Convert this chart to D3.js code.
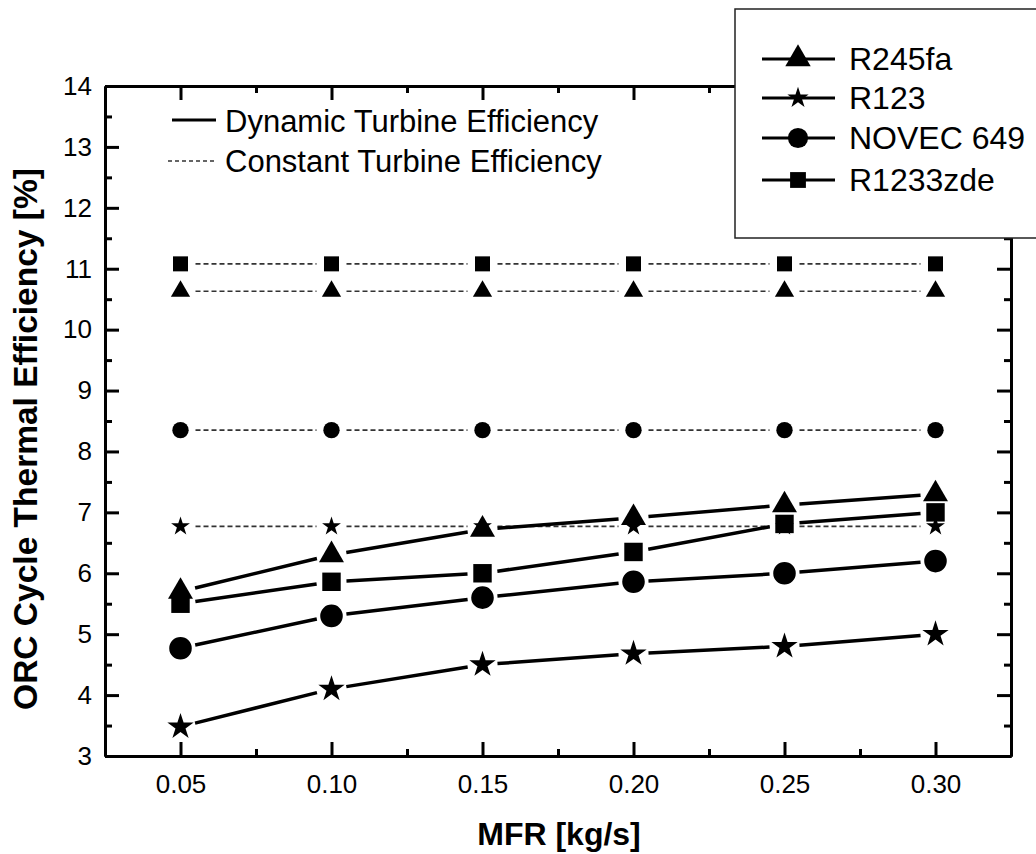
<!DOCTYPE html>
<html><head><meta charset="utf-8">
<script src="https://cdn.jsdelivr.net/npm/d3@7"></script>
<style>body{margin:0;background:#fff}svg{display:block}text{font-family:"Liberation Sans",Arial,sans-serif}</style>
</head><body><svg id="c" width="1036" height="854"></svg>
<script>
const mfr = [0.05, 0.10, 0.15, 0.20, 0.25, 0.30];
const seriesNames = ["R245fa", "R123", "NOVEC 649", "R1233zde"];
const dynR245fa = [5.70, 6.30, 6.72, 6.91, 7.12, 7.30];
const dynR123 = [3.48, 4.10, 4.50, 4.68, 4.80, 5.00];
const dynNovec = [4.77, 5.30, 5.60, 5.86, 6.00, 6.20];
const dynR1233 = [5.50, 5.86, 6.00, 6.35, 6.81, 7.00];
const constR245fa = [10.63, 10.63, 10.63, 10.63, 10.63, 10.63];
const constR123 = [6.77, 6.77, 6.77, 6.77, 6.77, 6.77];
const constNovec = [8.35, 8.35, 8.35, 8.35, 8.35, 8.35];
const constR1233 = [11.08, 11.08, 11.08, 11.08, 11.08, 11.08];
const yTicks = [3,4,5,6,7,8,9,10,11,12,13,14];
const xTickLabels = ["0.05","0.10","0.15","0.20","0.25","0.30"];

const svg = d3.select("#c");
const L=105, R=1011, T=86, B=756;
const x = d3.scaleLinear().domain([0.025, 0.325]).range([L, R]);
const y = d3.scaleLinear().domain([3, 14]).range([B, T]);

const symTypes = {"R245fa": d3.symbolTriangle, "R123": d3.symbolStar, "NOVEC 649": d3.symbolCircle, "R1233zde": d3.symbolSquare};
const bigSize = {"R245fa": 270, "R123": 215, "NOVEC 649": 400, "R1233zde": 340};
const smallSize = {"R245fa": 160, "R123": 110, "NOVEC 649": 210, "R1233zde": 225};
const legSize = {"R245fa": 280, "R123": 140, "NOVEC 649": 320, "R1233zde": 250};

function styleAxis(g){
  g.selectAll(".domain").attr("stroke","#000").attr("stroke-width",3);
  g.selectAll(".tick line").attr("stroke","#000").attr("stroke-width",3);
  g.selectAll("text").attr("font-size",26).attr("fill","#000").attr("font-family","Liberation Sans, Arial, sans-serif");
}
const xMinor = [0.075,0.125,0.175,0.225,0.275];
const yMinor = d3.range(3.5, 14, 1);

svg.append("g").attr("transform",`translate(0,${B})`)
  .call(d3.axisBottom(x).tickValues(mfr).tickFormat((d,i)=>xTickLabels[i]).tickSizeInner(-14).tickSizeOuter(0).tickPadding(19))
  .call(styleAxis);
svg.append("g").attr("transform",`translate(0,${B})`)
  .call(d3.axisBottom(x).tickValues(xMinor).tickFormat("").tickSizeInner(-7).tickSizeOuter(0)).call(styleAxis);
svg.append("g").attr("transform",`translate(0,${T})`)
  .call(d3.axisTop(x).tickValues(mfr).tickFormat("").tickSizeInner(-14).tickSizeOuter(0)).call(styleAxis);
svg.append("g").attr("transform",`translate(0,${T})`)
  .call(d3.axisTop(x).tickValues(xMinor).tickFormat("").tickSizeInner(-7).tickSizeOuter(0)).call(styleAxis);
svg.append("g").attr("transform",`translate(${L},0)`)
  .call(d3.axisLeft(y).tickValues(yTicks).tickFormat(d3.format("d")).tickSizeInner(-14).tickSizeOuter(0).tickPadding(13))
  .call(styleAxis);
svg.append("g").attr("transform",`translate(${L},0)`)
  .call(d3.axisLeft(y).tickValues(yMinor).tickFormat("").tickSizeInner(-7).tickSizeOuter(0)).call(styleAxis);
svg.append("g").attr("transform",`translate(${R},0)`)
  .call(d3.axisRight(y).tickValues(yTicks).tickFormat("").tickSizeInner(-14).tickSizeOuter(0)).call(styleAxis);
svg.append("g").attr("transform",`translate(${R},0)`)
  .call(d3.axisRight(y).tickValues(yMinor).tickFormat("").tickSizeInner(-7).tickSizeOuter(0)).call(styleAxis);

svg.append("text").attr("transform",`translate(37,439) rotate(-90)`).attr("text-anchor","middle")
  .attr("font-size",33.5).attr("font-weight","bold").text("ORC Cycle Thermal Efficiency [%]");
svg.append("text").attr("x",559).attr("y",845).attr("text-anchor","middle")
  .attr("font-size",32).attr("font-weight","bold").text("MFR [kg/s]");

function drawSeries(vals, name, dashed){
  const pts = mfr.map((m,i)=>[x(m), y(vals[i])]);
  const gap = 15;
  const g = svg.append("g");
  for(let i=0;i<pts.length-1;i++){
    const [x1,y1]=pts[i], [x2,y2]=pts[i+1];
    const dx=x2-x1, dy=y2-y1, len=Math.hypot(dx,dy);
    const ux=dx/len, uy=dy/len;
    g.append("line").attr("x1",x1+ux*gap).attr("y1",y1+uy*gap).attr("x2",x2-ux*gap).attr("y2",y2-uy*gap)
      .attr("stroke", dashed?"#333":"#000").attr("stroke-width", dashed?1.6:3.5)
      .attr("stroke-dasharray", dashed?"5,3":null);
  }
  const sz = dashed ? smallSize[name] : bigSize[name];
  g.selectAll("path").data(pts).join("path")
    .attr("transform",d=>`translate(${d[0]},${d[1]})`)
    .attr("d", d3.symbol().type(symTypes[name]).size(sz)).attr("fill","#000");
}
drawSeries(constR123, "R123", true);
drawSeries(constNovec, "NOVEC 649", true);
drawSeries(constR245fa, "R245fa", true);
drawSeries(constR1233, "R1233zde", true);
drawSeries(dynR123, "R123", false);
drawSeries(dynNovec, "NOVEC 649", false);
drawSeries(dynR1233, "R1233zde", false);
drawSeries(dynR245fa, "R245fa", false);

svg.append("line").attr("x1",172).attr("x2",216).attr("y1",120).attr("y2",120).attr("stroke","#000").attr("stroke-width",3);
svg.append("text").attr("x",225).attr("y",132).attr("font-size",31).text("Dynamic Turbine Efficiency");
svg.append("line").attr("x1",168).attr("x2",216).attr("y1",161).attr("y2",161).attr("stroke","#333").attr("stroke-width",1.4).attr("stroke-dasharray","4,3");
svg.append("text").attr("x",225).attr("y",172).attr("font-size",31).text("Constant Turbine Efficiency");

svg.append("rect").attr("x",735).attr("y",9).attr("width",320).attr("height",229).attr("fill","#fff").attr("stroke","#222").attr("stroke-width",1.5);
const legY = [59, 98, 138, 180];
seriesNames.forEach((n,i)=>{
  const gy = legY[i];
  svg.append("line").attr("x1",762).attr("x2",835).attr("y1",gy).attr("y2",gy).attr("stroke","#000").attr("stroke-width",3);
  svg.append("path").attr("transform",`translate(798,${gy})`).attr("d",d3.symbol().type(symTypes[n]).size(legSize[n])).attr("fill","#000");
  svg.append("text").attr("x",849).attr("y",gy+11).attr("font-size",32).text(n);
});
</script></body></html>
